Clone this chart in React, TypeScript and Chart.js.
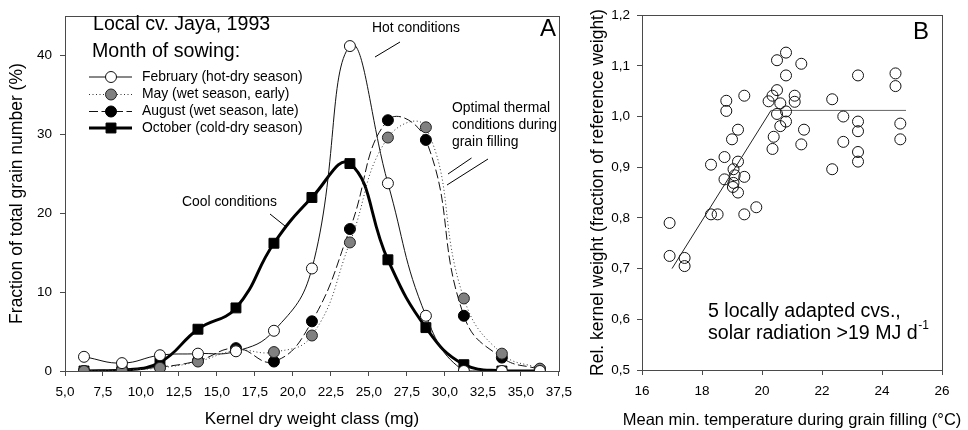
import React, { useEffect, useRef } from "react";
import { Chart, registerables } from "chart.js";

Chart.register(...registerables);

// ---------------- Panel A data ----------------
const weightClasses = [6.25, 8.75, 11.25, 13.75, 16.25, 18.75, 21.25, 23.75, 26.25, 28.75, 31.25, 33.75, 36.25];
const febValues = [1.8, 1.0, 2.0, 2.2, 2.5, 5.1, 13.0, 41.2, 23.8, 7.0, 0, 0, 0];
const mayValues = [0, 0.1, 0.4, 1.2, 2.6, 2.4, 4.5, 16.3, 29.6, 30.9, 9.2, 2.2, 0.3];
const augValues = [0, 0.2, 0.5, 1.3, 2.9, 1.2, 6.3, 18.0, 31.8, 29.3, 7.0, 1.7, 0.2];
const octValues = [0, 0.1, 1.1, 5.3, 8.0, 16.2, 22.0, 26.3, 14.1, 5.5, 0.8, 0, 0];
const seriesLabels = [
  "February (hot-dry season)",
  "May (wet season, early)",
  "August (wet season, late)",
  "October (cold-dry season)",
];
const xTicksA = [5, 7.5, 10, 12.5, 15, 17.5, 20, 22.5, 25, 27.5, 30, 32.5, 35, 37.5];
const yTicksA = [0, 10, 20, 30, 40];

// ---------------- Panel B data ----------------
const tempValues = [
  20.8, 20.5, 21.31, 20.8, 23.2, 24.45, 24.45, 20.5, 19.41, 18.81,
  18.81, 20.22, 20.35, 20.61, 21.09, 21.09, 22.34, 20.5, 20.8, 20.8,
  20.61, 22.71, 23.2, 23.2, 24.61, 24.61, 19.2, 19.0, 21.4, 20.39,
  20.35, 21.31, 22.71, 23.2, 23.2, 22.34, 18.75, 19.2, 18.3, 19.05,
  19.09, 18.75, 19.41, 19.05, 19.03, 19.2, 19.81, 18.3, 18.52, 19.41,
  16.92, 16.92, 17.42, 17.42,
];
const relWeightValues = [
  1.126, 1.111, 1.104, 1.081, 1.081, 1.085, 1.06, 1.052, 1.041, 1.031,
  1.011, 1.03, 1.041, 1.026, 1.041, 1.029, 1.034, 1.005, 1.01, 0.99,
  0.981, 1.0, 0.99, 0.971, 0.986, 0.955, 0.974, 0.955, 0.974, 0.96,
  0.936, 0.945, 0.95, 0.93, 0.911, 0.896, 0.92, 0.911, 0.905, 0.896,
  0.884, 0.876, 0.881, 0.869, 0.861, 0.85, 0.821, 0.807, 0.807, 0.807,
  0.79, 0.725, 0.721, 0.705,
];
const fitTemps = [17.0, 20.3, 24.8];
const fitWeights = [0.7, 1.012, 1.012];
const xTicksB = [16, 18, 20, 22, 24, 26];
const yTicksB = [0.5, 0.6, 0.7, 0.8, 0.9, 1.0, 1.1, 1.2];

// ---------------- Texts ----------------
const titleA1 = "Local cv. Jaya, 1993";
const titleA2 = "Month of sowing:";
const hotText = "Hot conditions";
const optimalText = ["Optimal thermal", "conditions during", "grain filling"];
const coolText = "Cool conditions";
const noteB1 = "5 locally adapted cvs.,";
const noteB2 = "solar radiation >19 MJ d";
const noteB2sup = "-1";
const xTitleB = "Mean min. temperature during grain filling (°C)";

const FONT = "'Liberation Sans', Arial, Helvetica, sans-serif";
const AXIS_COLOR = "#4a4a4a";
const TICK_FONT = { family: FONT, size: 13.5 };

const comma = (v: number) => v.toFixed(1).replace(".", ",");

const framePlugin = {
  id: "frame",
  afterDraw(chart: any) {
    const { ctx, chartArea: a } = chart;
    ctx.save();
    ctx.strokeStyle = AXIS_COLOR;
    ctx.lineWidth = 1;
    ctx.strokeRect(
      Math.round(a.left) + 0.5,
      Math.round(a.top) + 0.5,
      Math.round(a.right) - Math.round(a.left),
      Math.round(a.bottom) - Math.round(a.top)
    );
    ctx.restore();
  },
};

function drawMarker(ctx: CanvasRenderingContext2D, ds: any, x: number, y: number) {
  ctx.save();
  ctx.setLineDash([]);
  ctx.lineWidth = 1;
  ctx.strokeStyle = ds.pointBorderColor;
  ctx.fillStyle = ds.pointBackgroundColor;
  if (ds.pointStyle === "rect") {
    const s = Math.SQRT1_2 * ds.pointRadius;
    ctx.beginPath();
    ctx.rect(x - s, y - s, 2 * s, 2 * s);
  } else {
    ctx.beginPath();
    ctx.arc(x, y, ds.pointRadius, 0, Math.PI * 2);
  }
  ctx.fill();
  ctx.stroke();
  ctx.restore();
}

const annotAPlugin = {
  id: "annotA",
  afterDraw(chart: any) {
    const ctx: CanvasRenderingContext2D = chart.ctx;
    ctx.save();
    ctx.fillStyle = "#000";
    ctx.textBaseline = "middle";
    ctx.textAlign = "left";
    ctx.font = `19.6px ${FONT}`;
    ctx.fillText(titleA1, 93, 25);
    ctx.fillText(titleA2, 92, 52);

    // legend
    const ly = [77, 94.5, 111.5, 128];
    chart.data.datasets.forEach((ds: any, i: number) => {
      ctx.save();
      ctx.strokeStyle = ds.borderColor;
      ctx.lineWidth = ds.borderWidth;
      ctx.setLineDash(ds.borderDash || []);
      ctx.beginPath();
      ctx.moveTo(89, ly[i]);
      ctx.lineTo(132, ly[i]);
      ctx.stroke();
      ctx.restore();
      drawMarker(ctx, ds, 111, ly[i]);
      ctx.fillStyle = "#000";
      ctx.font = `13.9px ${FONT}`;
      ctx.fillText(ds.label, 142, ly[i]);
    });

    ctx.font = `13.9px ${FONT}`;
    ctx.fillText(hotText, 372, 28);
    optimalText.forEach((t, i) => ctx.fillText(t, 452, 108 + i * 17));
    ctx.fillText(coolText, 182, 202);

    ctx.font = `24px ${FONT}`;
    ctx.fillText("A", 540, 29);

    ctx.strokeStyle = "#000";
    ctx.lineWidth = 1;
    ctx.setLineDash([]);
    const seg = (x1: number, y1: number, x2: number, y2: number) => {
      ctx.beginPath();
      ctx.moveTo(x1, y1);
      ctx.lineTo(x2, y2);
      ctx.stroke();
    };
    seg(400, 42, 375, 57);
    seg(471.5, 158, 448, 174);
    seg(488, 159, 447, 185);
    seg(270, 214, 285, 226);
    ctx.restore();
  },
};

const annotBPlugin = {
  id: "annotB",
  afterDraw(chart: any) {
    const ctx: CanvasRenderingContext2D = chart.ctx;
    const a = chart.chartArea;
    ctx.save();
    ctx.fillStyle = "#000";
    ctx.textBaseline = "middle";
    ctx.textAlign = "left";
    ctx.font = `24px ${FONT}`;
    ctx.fillText("B", 333, 32);
    ctx.font = `19.6px ${FONT}`;
    ctx.fillText(noteB1, 128, 312);
    ctx.fillText(noteB2, 128, 334);
    const w = ctx.measureText(noteB2).width;
    ctx.font = `12px ${FONT}`;
    ctx.fillText(noteB2sup, 128 + w + 0.5, 326);
    // x-axis title (wider than the plot area, so drawn here)
    ctx.font = `16.5px ${FONT}`;
    ctx.textAlign = "center";
    ctx.fillText(xTitleB, (a.left + a.right) / 2, 420);
    ctx.restore();
  },
};

function commonScale(extra: any) {
  return {
    type: "linear",
    grid: { drawOnChartArea: false, drawTicks: true, tickLength: 5, color: AXIS_COLOR },
    border: { display: true, color: AXIS_COLOR, width: 1 },
    ...extra,
  };
}

function ChartA() {
  const ref = useRef<HTMLCanvasElement>(null);
  useEffect(() => {
    const mk = (vals: number[]) => weightClasses.map((x, i) => ({ x, y: vals[i] }));
    const chart = new Chart(ref.current as HTMLCanvasElement, {
      type: "line",
      data: {
        datasets: [
          {
            label: seriesLabels[0],
            data: mk(febValues),
            borderColor: "#111",
            borderWidth: 1,
            pointRadius: 5.5,
            pointBackgroundColor: "#fff",
            pointBorderColor: "#111",
            pointBorderWidth: 1,
            pointStyle: "circle",
            tension: 0.45,
          },
          {
            label: seriesLabels[1],
            data: mk(mayValues),
            borderColor: "#333",
            borderWidth: 1,
            borderDash: [1, 2.5],
            pointRadius: 5.5,
            pointBackgroundColor: "#808080",
            pointBorderColor: "#222",
            pointBorderWidth: 1,
            pointStyle: "circle",
            tension: 0.45,
          },
          {
            label: seriesLabels[2],
            data: mk(augValues),
            borderColor: "#111",
            borderWidth: 1,
            borderDash: [9, 3.5],
            pointRadius: 5.5,
            pointBackgroundColor: "#000",
            pointBorderColor: "#000",
            pointBorderWidth: 1,
            pointStyle: "circle",
            tension: 0.45,
          },
          {
            label: seriesLabels[3],
            data: mk(octValues),
            borderColor: "#000",
            borderWidth: 3,
            pointRadius: 7,
            pointBackgroundColor: "#000",
            pointBorderColor: "#000",
            pointBorderWidth: 1,
            pointStyle: "rect",
            tension: 0.45,
          },
        ],
      } as any,
      options: {
        animation: false,
        responsive: false,
        devicePixelRatio: 1,
        layout: { padding: { left: 0, top: 9, right: 13, bottom: 0 } },
        plugins: { legend: { display: false }, tooltip: { enabled: false } },
        scales: {
          x: commonScale({
            min: 5,
            max: 37.5,
            afterBuildTicks: (s: any) => { s.ticks = xTicksA.map((v) => ({ value: v })); },
            afterFit: (s: any) => { s.height = 59; },
            ticks: { font: TICK_FONT, color: "#000", padding: 8, maxRotation: 0, autoSkip: false, callback: (v: any) => comma(Number(v)) },
            title: { display: true, text: "Kernel dry weight class (mg)", color: "#000", font: { family: FONT, size: 17 }, padding: { top: 0, bottom: 0 } },
          }),
          y: commonScale({
            min: 0,
            max: 45,
            afterBuildTicks: (s: any) => { s.ticks = yTicksA.map((v) => ({ value: v })); },
            afterFit: (s: any) => { s.width = 65; },
            ticks: { font: TICK_FONT, color: "#000", padding: 8, autoSkip: false, callback: (v: any) => String(v) },
            title: { display: true, text: "Fraction of total grain number (%)", color: "#000", font: { family: FONT, size: 17.5 }, padding: { top: 6.5, bottom: 0 } },
          }),
        },
      } as any,
      plugins: [framePlugin, annotAPlugin] as any,
    });
    return () => chart.destroy();
  }, []);
  return <canvas ref={ref} width={580} height={430} style={{ position: "absolute", left: 0, top: 0 }} />;
}

function ChartB() {
  const ref = useRef<HTMLCanvasElement>(null);
  useEffect(() => {
    const chart = new Chart(ref.current as HTMLCanvasElement, {
      type: "scatter",
      data: {
        datasets: [
          {
            label: "Relative kernel weight",
            data: tempValues.map((x, i) => ({ x, y: relWeightValues[i] })),
            pointRadius: 5.5,
            pointBackgroundColor: "rgba(0,0,0,0)",
            pointBorderColor: "#111",
            pointBorderWidth: 1,
            showLine: false,
          },
          {
            label: "Fit",
            data: fitTemps.map((x, i) => ({ x, y: fitWeights[i] })),
            showLine: true,
            pointRadius: 0,
            borderWidth: 1,
            borderColor: "#333",
            segment: { borderColor: (c: any) => (c.p0DataIndex === 1 ? "#666" : "#222") },
          },
        ],
      } as any,
      options: {
        animation: false,
        responsive: false,
        devicePixelRatio: 1,
        layout: { padding: { left: 0, top: 8, right: 26, bottom: 0 } },
        plugins: { legend: { display: false }, tooltip: { enabled: false } },
        scales: {
          x: commonScale({
            min: 16,
            max: 26,
            afterBuildTicks: (s: any) => { s.ticks = xTicksB.map((v) => ({ value: v })); },
            afterFit: (s: any) => { s.height = 60; },
            ticks: { font: TICK_FONT, color: "#000", padding: 8, maxRotation: 0, autoSkip: false, callback: (v: any) => String(v) },
            title: { display: false },
          }),
          y: commonScale({
            min: 0.5,
            max: 1.2,
            afterBuildTicks: (s: any) => { s.ticks = yTicksB.map((v) => ({ value: v })); },
            afterFit: (s: any) => { s.width = 62; },
            ticks: { font: TICK_FONT, color: "#000", padding: 7, autoSkip: false, callback: (v: any) => comma(Number(v)) },
            title: { display: true, text: "Rel. kernel weight (fraction of reference weight)", color: "#000", font: { family: FONT, size: 17.5 }, padding: { top: 7.5, bottom: 0 } },
          }),
        },
      } as any,
      plugins: [framePlugin, annotBPlugin] as any,
    });
    return () => chart.destroy();
  }, []);
  return <canvas ref={ref} width={388} height={430} style={{ position: "absolute", left: 580, top: 0 }} />;
}

export default function App() {
  return (
    <div style={{ position: "absolute", left: 0, top: 0, width: 968, height: 430, background: "#fff", overflow: "hidden" }}>
      <ChartA />
      <ChartB />
    </div>
  );
}
